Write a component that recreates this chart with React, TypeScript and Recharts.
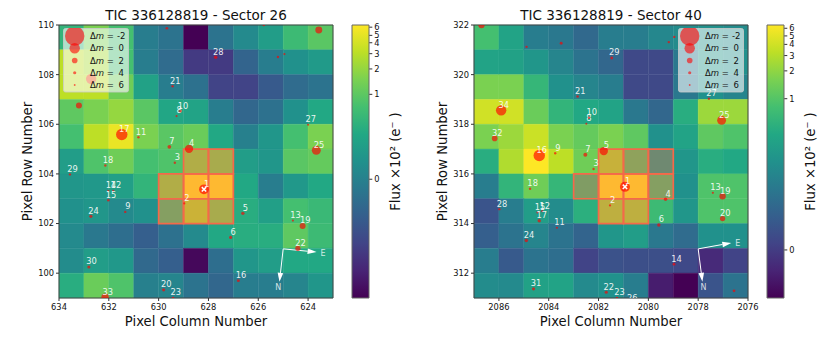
import React from "react";
import {
  ScatterChart, ComposedChart, Scatter, Bar, XAxis, YAxis, ReferenceArea, ReferenceLine, Legend, Label,
} from "recharts";

const font = "DejaVu Sans";

// colour scale levels (0..1 along the colorbar), rows listed top to bottom
const levels26 = [
  [0.65, 0.8, 0.7, 0.42, 0.38, 0.0, 0.38, 0.47, 0.55, 0.68, 0.74],
  [0.9, 0.87, 0.7, 0.42, 0.35, 0.17, 0.17, 0.32, 0.42, 0.5, 0.54],
  [0.9, 0.9, 0.78, 0.57, 0.42, 0.37, 0.2, 0.2, 0.28, 0.35, 0.38],
  [0.75, 0.8, 0.84, 0.74, 0.59, 0.58, 0.42, 0.33, 0.37, 0.5, 0.6],
  [0.7, 0.9, 0.97, 0.8, 0.74, 0.77, 0.6, 0.43, 0.52, 0.7, 0.8],
  [0.55, 0.72, 0.78, 0.7, 0.72, 0.82, 0.8, 0.55, 0.52, 0.74, 0.76],
  [0.52, 0.53, 0.56, 0.65, 0.82, 1.0, 1.0, 0.6, 0.42, 0.53, 0.6],
  [0.5, 0.52, 0.47, 0.5, 0.7, 0.88, 0.8, 0.62, 0.56, 0.7, 0.67],
  [0.47, 0.4, 0.36, 0.3, 0.37, 0.47, 0.6, 0.62, 0.62, 0.75, 0.68],
  [0.48, 0.55, 0.53, 0.34, 0.3, 0.02, 0.36, 0.52, 0.55, 0.6, 0.6],
  [0.62, 0.77, 0.72, 0.43, 0.45, 0.38, 0.33, 0.42, 0.42, 0.45, 0.52],
];
const levels40 = [
  [0.7, 0.58, 0.42, 0.4, 0.34, 0.42, 0.42, 0.46, 0.48, 0.5, 0.48],
  [0.58, 0.57, 0.52, 0.45, 0.38, 0.33, 0.22, 0.22, 0.4, 0.52, 0.5],
  [0.8, 0.8, 0.66, 0.5, 0.45, 0.42, 0.22, 0.22, 0.4, 0.5, 0.45],
  [0.93, 0.93, 0.77, 0.65, 0.6, 0.58, 0.4, 0.33, 0.62, 0.85, 0.85],
  [0.8, 0.85, 0.92, 0.8, 0.76, 0.8, 0.75, 0.5, 0.58, 0.75, 0.72],
  [0.62, 0.88, 1.0, 0.9, 0.78, 0.87, 0.73, 0.55, 0.52, 0.62, 0.6],
  [0.42, 0.65, 0.78, 0.66, 0.68, 1.0, 1.0, 0.7, 0.5, 0.72, 0.72],
  [0.26, 0.42, 0.55, 0.48, 0.63, 0.85, 0.85, 0.68, 0.52, 0.72, 0.72],
  [0.3, 0.38, 0.45, 0.38, 0.32, 0.52, 0.55, 0.4, 0.35, 0.5, 0.5],
  [0.42, 0.28, 0.38, 0.36, 0.2, 0.25, 0.24, 0.24, 0.22, 0.12, 0.2],
  [0.48, 0.47, 0.57, 0.58, 0.47, 0.5, 0.42, 0.08, 0.0, 0.26, 0.38],
];

// aperture pixels: [column (high edge), row (low edge)]
const aperture26 = [[629, 104], [628, 104], [630, 103], [629, 103], [628, 103], [630, 102], [629, 102], [628, 102]];
const aperture40 = [[2082, 316], [2081, 316], [2080, 316], [2083, 315], [2082, 315], [2081, 315], [2080, 315], [2082, 314], [2081, 314]];

// stars: [label, column, row, delta magnitude]
const stars26: [string, number, number, number][] = [
  ["1", 628.18, 103.38, 0.2], ["2", 628.97, 102.81, 5.3], ["3", 629.35, 104.45, 5], ["4", 628.78, 105.01, 0.7],
  ["5", 626.62, 102.41, 3.7], ["6", 627.11, 101.44, 4], ["7", 629.57, 105.09, 3.4], ["8", 629.28, 106.33, 5.5],
  ["9", 631.34, 102.47, 5], ["10", 629.13, 106.53, 4.6], ["11", 630.81, 105.48, 5], ["12", 631.82, 103.32, 5.6],
  ["13", 624.61, 102.12, 5.3], ["14", 632.02, 103.32, 5.7], ["15", 632.02, 102.94, 4.7], ["16", 626.8, 99.7, 4.2],
  ["17", 631.48, 105.59, -0.3], ["18", 632.14, 104.34, 5], ["19", 624.22, 101.9, 1.8], ["20", 629.8, 99.33, 4],
  ["21", 629.44, 107.53, 5], ["22", 624.41, 101.0, 2.3], ["23", 629.42, 99.0, 5], ["24", 632.72, 102.29, 4],
  ["25", 623.67, 104.95, 0.47], ["27", 624.0, 105.98, 5.3], ["28", 627.71, 108.7, 3.7], ["29", 633.56, 103.98, 5],
  ["30", 632.8, 100.25, 4], ["33", 632.15, 99.03, 1.1],
  ["", 629.67, 109.87, 4.6], ["", 632.71, 107.83, 0], ["", 633.2, 106.76, 1.8], ["", 625.78, 110.0, 5],
  ["", 623.57, 109.8, 1.3], ["", 625.21, 108.71, 5], ["", 624.95, 108.83, 5.3],
];
const stars40: [string, number, number, number][] = [
  ["1", 2080.94, 315.48, 0.1], ["2", 2081.54, 314.73, 5.3], ["3", 2082.2, 316.2, 5], ["4", 2079.31, 314.98, 3.7],
  ["5", 2081.79, 316.92, 0.7], ["6", 2079.58, 313.94, 3.7], ["7", 2082.53, 316.77, 3.2], ["8", 2082.49, 318.02, 5.7],
  ["9", 2083.74, 316.83, 5], ["10", 2082.38, 318.26, 5], ["11", 2083.67, 313.83, 5.3], ["12", 2084.26, 314.5, 5.3],
  ["13", 2077.41, 315.24, 5.3], ["14", 2078.97, 312.36, 4.4], ["15", 2084.45, 314.45, 5.3], ["16", 2084.38, 316.74, -0.3],
  ["17", 2084.38, 314.11, 3.7], ["18", 2084.75, 315.4, 5], ["19", 2077.02, 315.1, 1.6], ["20", 2077.02, 314.2, 2.2],
  ["21", 2082.84, 319.12, 4.7], ["22", 2081.69, 311.23, 4], ["23", 2081.26, 311.0, 5], ["24", 2084.9, 313.32, 3.7],
  ["25", 2077.06, 318.16, 0.5], ["26", 2080.75, 310.78, 5], ["27", 2077.57, 319.03, 5], ["28", 2085.98, 314.58, 5],
  ["29", 2081.47, 320.67, 4.4], ["31", 2084.61, 311.37, 4], ["32", 2086.17, 317.43, 2], ["34", 2085.91, 318.56, 0],
  ["", 2086.7, 322.0, 1.6], ["", 2084.89, 321.12, 5], ["", 2083.5, 321.26, 4.2], ["", 2078.96, 321.52, 5],
  ["", 2079.18, 321.31, 5], ["", 2076.56, 311.29, 4.4],
];

const target26 = [{ x: 628.18, y: 103.38 }];
const target40 = [{ x: 2080.94, y: 315.48 }];

// compass: origin, east tip, north tip, then where the letters sit
const compass26 = { o: [625.0, 100.98], e: [623.66, 100.85], n: [625.15, 99.65], eText: [623.4, 100.83], nText: [625.2, 99.43] };
const compass40 = { o: [2078.0, 312.98], e: [2076.67, 313.22], n: [2077.83, 311.65], eText: [2076.41, 313.23], nText: [2077.79, 311.43] };

const xTicks26 = [634, 632, 630, 628, 626, 624];
const yTicks26 = [100, 102, 104, 106, 108, 110];
const xTicks40 = [2086, 2084, 2082, 2080, 2078, 2076];
const yTicks40 = [312, 314, 316, 318, 320, 322];

const legendMags = [-2, 0, 2, 4, 6];

const cbLevels26 = [0.435, 0.746, 0.839, 0.895, 0.935, 0.962, 0.992];
const cbLevels40 = [0.176, 0.73, 0.832, 0.888, 0.929, 0.96, 0.988];
const cbLabels = ["0", "1", "2", "3", "4", "5", "6"];

const viridis = ["#440154", "#482475", "#414487", "#355f8d", "#2a788e", "#21918c", "#22a884", "#44bf70", "#7ad151", "#bddf26", "#fde725"];

function colorAt(t: number) {
  const p = Math.min(0.9999, Math.max(0, t)) * 10;
  const i = Math.floor(p);
  const f = p - i;
  const a = parseInt(viridis[i].slice(1), 16);
  const b = parseInt(viridis[i + 1].slice(1), 16);
  const ch = (s: number) => Math.round(((a >> s) & 255) * (1 - f) + ((b >> s) & 255) * f);
  return `rgb(${ch(16)},${ch(8)},${ch(0)})`;
}

const radius = (dm: number) => 5 * Math.pow(10, -0.14 * dm) + 0.2;

function StarShape(props: any) {
  const { cx, cy, payload } = props;
  return (
    <g>
      <circle cx={cx} cy={cy} r={radius(payload.dm)} fill="#ff0000" fillOpacity={0.65} />
      {payload.label && (
        <text x={cx + 2.6} y={cy - 2.6} textAnchor="middle" fontFamily={font} fontSize={8.3} fill="#fff" fillOpacity={0.9}>
          {payload.label}
        </text>
      )}
    </g>
  );
}

function TargetShape(props: any) {
  const { cx, cy } = props;
  const d = 2.2;
  return (
    <path d={`M${cx - d},${cy - d}L${cx + d},${cy + d}M${cx - d},${cy + d}L${cx + d},${cy - d}`} stroke="#fff" strokeWidth={1.5} fill="none" />
  );
}

function CompassText(props: any) {
  const { cx, cy, payload } = props;
  return (
    <text x={cx} y={cy + 3} textAnchor="middle" fontFamily={font} fontSize={8} fill="#fff" fillOpacity={0.8}>
      {payload.label}
    </text>
  );
}

function ArrowShape(props: any) {
  const { x1, y1, x2, y2 } = props;
  const len = Math.hypot(x2 - x1, y2 - y1);
  const ux = (x2 - x1) / len;
  const uy = (y2 - y1) / len;
  const bx = x2 - ux * 9;
  const by = y2 - uy * 9;
  return (
    <g>
      <line x1={x1} y1={y1} x2={bx} y2={by} stroke="#fff" strokeWidth={1} />
      <path d={`M${x2},${y2}L${bx - uy * 2.8},${by + ux * 2.8}L${bx + uy * 2.8},${by - ux * 2.8}Z`} fill="#fff" />
    </g>
  );
}

function StarLegend({ left }: { left: number }) {
  return (
    <svg width={66} height={65} style={{ display: "block" }}>
      <rect x={0.5} y={0.5} width={65} height={63.5} rx={2} fill="#fff" fillOpacity={0.6} stroke="#ccc" strokeOpacity={0.8} />
      {legendMags.map((m, i) => (
        <g key={m}>
          <circle cx={left} cy={8 + i * 12.25} r={radius(m)} fill="#ff0000" fillOpacity={0.6} />
          <text x={27} y={11 + i * 12.25} fontFamily={font} fontSize={8.5} fill="#111">
            Δ<tspan fontStyle="italic">m</tspan> =
          </text>
          <text x={m < 0 ? 54 : 55.5} y={11 + i * 12.25} fontFamily={font} fontSize={8.5} fill="#111">{m}</text>
        </g>
      ))}
    </svg>
  );
}

function Panel(props: any) {
  const { left, title, xDomain, yDomain, xTicks, yTicks, levels, aperture, stars, target, compass, legendLeft } = props;
  const starData = stars.map((s: any) => ({ label: s[0], x: s[1], y: s[2], dm: s[3] }));
  const pt = (p: number[]) => ({ x: p[0], y: p[1] });
  return (
    <div style={{ position: "absolute", left, top: 0, width: 360, height: 346 }}>
      <div style={{ position: "absolute", left: 0, width: 332 + 60, top: 7, textAlign: "center", fontFamily: font, fontSize: 13.5, color: "#111", whiteSpace: "nowrap" }}>
        {title}
      </div>
      <ScatterChart width={360} height={346} margin={{ top: 25, right: 27, bottom: 18, left: 9 }}>
        <XAxis type="number" dataKey="x" domain={xDomain} reversed allowDataOverflow ticks={xTicks} interval={0} height={30}
          axisLine={false} tickSize={3} tickMargin={3} tick={{ fontSize: 8.3, fontFamily: font, fill: "#111" }} tickLine={{ stroke: "#333" }}>
          <Label value="Pixel Column Number" position="insideBottom" offset={2} style={{ fontSize: 13.2, fontFamily: font, fill: "#111" }} />
        </XAxis>
        <YAxis type="number" dataKey="y" domain={yDomain} allowDataOverflow ticks={yTicks} interval={0} width={50}
          axisLine={false} tickSize={3} tickMargin={2} tick={{ fontSize: 8.3, fontFamily: font, fill: "#111" }} tickLine={{ stroke: "#333" }}>
          <Label value="Pixel Row Number" angle={-90} position="center" dx={-7} style={{ fontSize: 13.2, fontFamily: font, fill: "#111" }} />
        </YAxis>
        {levels.map((row: number[], r: number) =>
          row.map((v, c) => {
            const x2 = xDomain[1] - c;
            const y2 = yDomain[1] - r;
            const fill = colorAt(v);
            return <ReferenceArea key={`${r}-${c}`} x1={x2 - 1} x2={x2} y1={y2 - 1} y2={y2} fill={fill} fillOpacity={1} stroke={fill} strokeWidth={0.4} />;
          })
        )}
        {aperture.map((a: number[]) => (
          <ReferenceArea key={`ap-${a[0]}-${a[1]}`} x1={a[0] - 1} x2={a[0]} y1={a[1]} y2={a[1] + 1} fill="#ff6347" fillOpacity={0.35} stroke="#f4694a" strokeWidth={1.7} />
        ))}
        <Scatter data={starData} isAnimationActive={false} shape={StarShape} />
        <Scatter data={target} isAnimationActive={false} shape={TargetShape} />
        <ReferenceLine segment={[pt(compass.o), pt(compass.e)]} shape={ArrowShape} ifOverflow="visible" />
        <ReferenceLine segment={[pt(compass.o), pt(compass.n)]} shape={ArrowShape} ifOverflow="visible" />
        <Scatter
          data={[{ ...pt(compass.eText), label: "E" }, { ...pt(compass.nText), label: "N" }]}
          isAnimationActive={false}
          shape={CompassText}
        />
        <ReferenceArea x1={xDomain[0]} x2={xDomain[1]} y1={yDomain[0]} y2={yDomain[1]} fill="none" stroke="#444" strokeWidth={1} />
        <Legend
          layout="horizontal"
          verticalAlign="middle"
          content={() => <StarLegend left={11.7} />}
          wrapperStyle={{ left: legendLeft, top: 28, width: 66, height: 65, bottom: "auto", margin: 0 }}
        />
      </ScatterChart>
    </div>
  );
}

function ColorBar({ left, levels }: { left: number; levels: number[] }) {
  const gradId = `cb-${left}`;
  const data = [{ name: "flux", top: 1 }];
  return (
    <div style={{ position: "absolute", left, top: 0, width: 70, height: 346 }}>
      <ComposedChart width={70} height={346} data={data} margin={{ top: 25, right: 0, bottom: 48, left: 2 }} barCategoryGap={0}>
        <defs>
          <linearGradient id={gradId} x1="0" y1="1" x2="0" y2="0">
            {viridis.map((c, i) => (
              <stop key={c} offset={`${i * 10}%`} stopColor={c} />
            ))}
          </linearGradient>
        </defs>
        <XAxis dataKey="name" hide />
        <YAxis orientation="right" type="number" domain={[0, 1]} ticks={levels} interval={0} width={50.7}
          tickFormatter={(v: number) => cbLabels[levels.indexOf(v)]}
          axisLine={false} tickSize={3} tickMargin={2} tick={{ fontSize: 8.3, fontFamily: font, fill: "#111" }} tickLine={{ stroke: "#333" }}>
          <Label value="Flux ×10² (e⁻ )" angle={-90} position="center" dx={1} style={{ fontSize: 13.2, fontFamily: font, fill: "#111" }} />
        </YAxis>
        <Bar dataKey="top" fill={`url(#${gradId})`} stroke="#666" strokeWidth={1} isAnimationActive={false} />
      </ComposedChart>
    </div>
  );
}

export default function App() {
  return (
    <div style={{ position: "absolute", left: 0, top: 0, width: 830, height: 346, background: "#fff", overflow: "hidden" }}>
      <Panel left={0} title="TIC 336128819 - Sector 26" xDomain={[623, 634]} yDomain={[99, 110]} xTicks={xTicks26} yTicks={yTicks26}
        levels={levels26} aperture={aperture26} stars={stars26} target={target26} compass={compass26} legendLeft={63} />
      <ColorBar left={350} levels={cbLevels26} />
      <Panel left={415} title="TIC 336128819 - Sector 40" xDomain={[2076, 2087]} yDomain={[311, 322]} xTicks={xTicks40} yTicks={yTicks40}
        levels={levels40} aperture={aperture40} stars={stars40} target={target40} compass={compass40} legendLeft={263} />
      <ColorBar left={765} levels={cbLevels40} />
    </div>
  );
}
